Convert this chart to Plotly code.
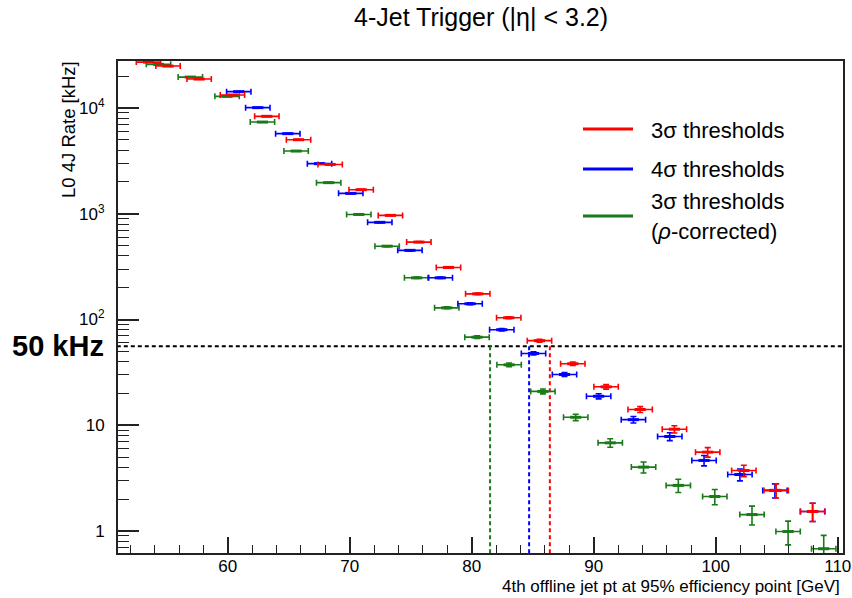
import numpy as np
import plotly.graph_objects as go

# ---------------- data ----------------
series_names = ["3σ thresholds", "4σ thresholds", "3σ thresholds<br>(<i>ρ</i>-corrected)"]
series_colors = ["#ff0000", "#0000ff", "#1a7a1a"]

red_pt = [53.5, 55.1, 57.65, 60.38, 63.2, 65.8, 68.39, 70.93, 73.33, 75.66, 78.09,
          80.49, 83.03, 85.55, 88.28, 91.01, 93.8, 96.61, 99.34, 102.3, 104.95, 107.95]
red_rate = [27200, 24950, 18800, 13280, 8350, 5020, 2930, 1690, 966, 540, 311,
            175, 104, 63.1, 38.2, 23.1, 14.1, 9.18, 5.57, 3.73, 2.42, 1.53]
red_err = [40, 38, 33, 28, 22, 17, 13, 10, 7.5, 5.6, 4.2,
           3.2, 2.4, 1.9, 1.5, 1.15, 0.9, 0.73, 0.57, 0.46, 0.37, 0.30]

blue_pt = [60.9, 62.46, 64.92, 67.52, 70.08, 72.46, 74.93, 77.42, 79.86, 82.46,
           85.06, 87.6, 90.4, 93.25, 96.23, 99.04, 101.98, 104.85, 107.93]
blue_rate = [14290, 10090, 5730, 2980, 1560, 830, 451, 248, 141, 80.1,
             47.8, 30.2, 18.8, 11.3, 7.83, 4.65, 3.42, 2.42, 1.53]
blue_err = [29, 24, 18, 13, 9.5, 6.9, 5.1, 3.8, 2.8, 2.1,
            1.66, 1.32, 1.04, 0.81, 0.67, 0.52, 0.44, 0.37, 0.30]

green_pt = [54.32, 56.93, 59.94, 62.84, 65.6, 68.27, 70.74, 73.06, 75.48, 77.95, 80.43,
            83.06, 85.83, 88.52, 91.35, 94.08, 96.93, 99.92, 102.97, 105.93, 108.85]
green_rate = [25900, 19630, 12900, 7370, 3920, 1970, 986, 494, 248, 129, 68.1,
              37.3, 20.9, 11.9, 6.82, 4.02, 2.70, 2.12, 1.43, 0.99, 0.68]
green_err = [39, 34, 27, 21, 15, 10.7, 7.5, 5.3, 3.8, 2.7, 2.0,
             1.47, 1.10, 0.83, 0.63, 0.48, 0.39, 0.35, 0.29, 0.25, 0.23]

pt_half_width = 1.0          # horizontal error (GeV)
rate_limit_khz = 56          # dashed "50 kHz" line as drawn
cross_pt = [86.4, 84.7, 81.5]  # red, blue, green crossing points

x_tickvals = [60, 70, 80, 90, 100, 110]
x_ticktext = ["60", "70", "80", "90", "100", "110"]
y_tickvals = [1, 10, 100, 1000, 10000]
y_ticktext = ["1", "10", "10<sup>2</sup>", "10<sup>3</sup>", "10<sup>4</sup>"]

FONT = "Liberation Sans, Arial, Helvetica, sans-serif"

# ---------------- layout geometry ----------------
W, H = 852, 598
L, R, T, B = 118, 9, 61, 45
PW, PH = W - L - R, H - T - B


def px_x(p):
    return (p - L) / PW


def px_y(p):
    return (H - B - p) / PH


fig = go.Figure()

# dashed rate-limit line and crossing lines
fig.add_trace(go.Scatter(x=[40, 120], y=[rate_limit_khz, rate_limit_khz], mode="lines",
                         line=dict(color="black", width=2, dash="4px,3px"),
                         showlegend=False, hoverinfo="skip"))
for c, xp in zip(series_colors, cross_pt):
    fig.add_trace(go.Scatter(x=[xp, xp], y=[rate_limit_khz, 0.3], mode="lines",
                             line=dict(color=c, width=2, dash="4px,3px"),
                             showlegend=False, hoverinfo="skip"))

# data series (green, blue, red drawing order)
for pts, rates, errs, c in [(green_pt, green_rate, green_err, series_colors[2]),
                            (blue_pt, blue_rate, blue_err, series_colors[1]),
                            (red_pt, red_rate, red_err, series_colors[0])]:
    fig.add_trace(go.Scatter(
        x=pts, y=rates, mode="markers",
        marker=dict(symbol="line-ew", size=8, color=c, line=dict(color=c, width=3)),
        error_x=dict(type="constant", value=pt_half_width, color=c, thickness=1.6, width=3),
        error_y=dict(type="data", array=errs, color=c, thickness=1.6, width=3),
        showlegend=False, cliponaxis=True))

# ---------------- manual legend ----------------
legend_line_y = [129, 169, 216]
legend_text_y = [[130], [169], [201, 231]]
legend_text_lines = [["3σ thresholds"], ["4σ thresholds"], ["3σ thresholds", "(<i>ρ</i>-corrected)"]]
shapes = []
annotations = []
for c, ly, tys, tls in zip(series_colors, legend_line_y, legend_text_y, legend_text_lines):
    shapes.append(dict(type="line", xref="paper", yref="paper",
                       x0=px_x(583), x1=px_x(633), y0=px_y(ly), y1=px_y(ly),
                       line=dict(color=c, width=3)))
    for ty, tl in zip(tys, tls):
        annotations.append(dict(xref="paper", yref="paper", x=px_x(649), y=px_y(ty),
                                xanchor="left", yanchor="middle", showarrow=False,
                                text=tl, font=dict(family=FONT, size=22, color="black")))

# titles / labels
annotations.append(dict(xref="paper", yref="paper", x=px_x(481), y=px_y(17),
                        xanchor="center", yanchor="middle", showarrow=False,
                        text="4-Jet Trigger (|η| < 3.2)",
                        font=dict(family=FONT, size=25, color="black")))
annotations.append(dict(xref="paper", yref="paper", x=px_x(68), y=px_y(130),
                        xanchor="center", yanchor="middle", showarrow=False, textangle=-90,
                        text="L0 4J Rate [kHz]",
                        font=dict(family=FONT, size=18.5, color="black")))
annotations.append(dict(xref="paper", yref="paper", x=px_x(842), y=px_y(586),
                        xanchor="right", yanchor="middle", showarrow=False,
                        text="4th offline jet pt at 95% efficiency point [GeV]",
                        font=dict(family=FONT, size=17, color="black")))
annotations.append(dict(xref="paper", yref="y", x=px_x(106), y=float(np.log10(rate_limit_khz)),
                        xanchor="right", yanchor="middle", showarrow=False,
                        text="<b>50 kHz</b>",
                        font=dict(family=FONT, size=29, color="black")))

y_minor = [m * 10 ** k for k in range(-1, 5) for m in range(2, 10)]

fig.update_layout(
    width=W, height=H,
    margin=dict(l=L, r=R, t=T, b=B, pad=0),
    paper_bgcolor="white", plot_bgcolor="white",
    font=dict(family=FONT, size=17, color="black"),
    shapes=shapes, annotations=annotations,
    showlegend=False,
    xaxis=dict(range=[51.0, 110.43], tickmode="array", tickvals=x_tickvals, ticktext=x_ticktext,
               automargin=False, ticklabelstandoff=-3,
               ticks="inside", ticklen=16, tickwidth=1.5, tickcolor="#222",
               showline=True, mirror=True, linecolor="#222", linewidth=2,
               showgrid=False, zeroline=False,
               tickfont=dict(family=FONT, size=17, color="black"),
               minor=dict(ticks="inside", ticklen=8, tickwidth=1.2, tickcolor="#222",
                          tickmode="linear", tick0=0, dtick=2, showgrid=False)),
    yaxis=dict(type="log", range=[-0.208, 4.445], tickmode="array", tickvals=y_tickvals,
               ticktext=y_ticktext, automargin=False,
               ticks="inside", ticklen=21, tickwidth=1.5, tickcolor="#222",
               showline=True, mirror=True, linecolor="#222", linewidth=2,
               showgrid=False, zeroline=False, ticklabelstandoff=8,
               tickfont=dict(family=FONT, size=17, color="black"),
               minor=dict(ticks="inside", ticklen=11, tickwidth=1.2, tickcolor="#222",
                          tickmode="array", tickvals=y_minor, showgrid=False)),
)

fig.write_html("out.html")
